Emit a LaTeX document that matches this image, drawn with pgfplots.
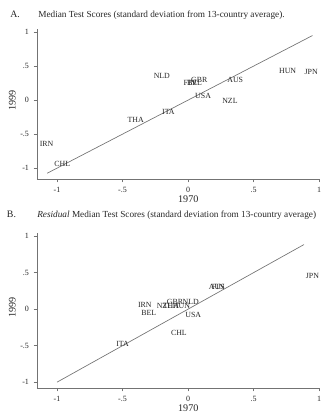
\documentclass[border=0pt]{standalone}
\usepackage{fontspec}
\setmainfont{Liberation Serif}
\usepackage{pgfplots}
\usepackage{pgfplotstable}
\pgfplotsset{compat=1.18}

\pgfplotstableread{
x y label
0.36 0.29 AUS
0.05 0.26 BEL
-0.96 -0.94 CHL
0.015 0.26 FIN
0.085 0.295 GBR
0.76 0.43 HUN
-1.08 -0.64 IRN
-0.15 -0.18 ITA
0.94 0.42 JPN
-0.20 0.35 NLD
0.32 -0.01 NZL
-0.40 -0.29 THA
0.115 0.06 USA
}\tableA

\pgfplotstableread{
x y label
0.22 0.31 AUS
-0.30 -0.05 BEL
-0.07 -0.33 CHL
0.23 0.31 FIN
-0.10 0.10 GBR
-0.05 0.05 HUN
-0.33 0.06 IRN
-0.50 -0.48 ITA
0.95 0.45 JPN
0.02 0.10 NLD
-0.18 0.05 NZL
-0.13 0.05 THA
0.04 -0.075 USA
}\tableB

\definecolor{txt}{gray}{0.15}
\definecolor{axc}{gray}{0.45}

\pgfplotsset{
  stbase/.style={
    axis lines=left,
    axis line style={-, draw=axc, line width=0.5pt},
    x=98.25pt,
    xmin=-1.153, xmax=1.01,
    xtick={-1,-0.5,0,0.5,1},
    xticklabels={-1,-.5,0,.5,1},
    ytick={-1,-0.5,0,0.5,1},
    yticklabels={-1,-.5,0,.5,1},
    tick align=outside,
    major tick length=2.5pt,
    tick style={draw=axc, line width=0.5pt},
    tick label style={font=\fontsize{6}{6}\selectfont, text=txt},
    label style={font=\fontsize{7.6}{8}\selectfont, text=txt},
    xlabel={1970}, ylabel={1999},
    xlabel style={at={(axis description cs:0.534,0)}, anchor=center, yshift=-15pt},
    ylabel style={at={(axis description cs:0,0.52)}, anchor=center, yshift=18.5pt},
    clip=false,
    nodes near coords,
    point meta=explicit symbolic,
    nodes near coords style={anchor=center, font=\fontsize{5.9}{6}\selectfont, text=txt, inner sep=0pt},
  }
}

\begin{document}
\begin{tikzpicture}
\useasboundingbox (0,0) rectangle (240.75pt,-309pt);

% Panel A
\node[anchor=west, text=txt, font=\fontsize{7.4}{8}\selectfont, inner sep=0pt] at (7.5pt,-10.5pt) {A.};
\node[anchor=west, text=txt, font=\fontsize{6.95}{8}\selectfont, inner sep=0pt] at (28.5pt,-11.2pt) {Median Test Scores (standard deviation from 13-country average).};

\begin{axis}[stbase,
  at={(27.75pt,-134.25pt)}, anchor=south west,
  y=51pt, ymin=-1.16, ymax=1.05]
\addplot[draw=axc, line width=0.5pt, no marks, nodes near coords=] coordinates {(-1.075,-1.075) (0.95,0.95)};
\addplot[draw=none] table[x=x, y=y, meta=label] {\tableA};
\end{axis}

% Panel B
\node[anchor=west, text=txt, font=\fontsize{7.4}{8}\selectfont, inner sep=0pt] at (5pt,-160.5pt) {B.};
\node[anchor=west, text=txt, font=\fontsize{6.95}{8}\selectfont, inner sep=0pt] at (27.75pt,-161.2pt) {\textit{Residual} Median Test Scores (standard deviation from 13-country average)};

\begin{axis}[stbase,
  at={(27.75pt,-291pt)}, anchor=south west,
  y=54.75pt, ymin=-1.08, ymax=1.05]
\addplot[draw=axc, line width=0.5pt, no marks, nodes near coords=] coordinates {(-1,-1) (0.885,0.885)};
\addplot[draw=none] table[x=x, y=y, meta=label] {\tableB};
\end{axis}
\end{tikzpicture}
\end{document}
